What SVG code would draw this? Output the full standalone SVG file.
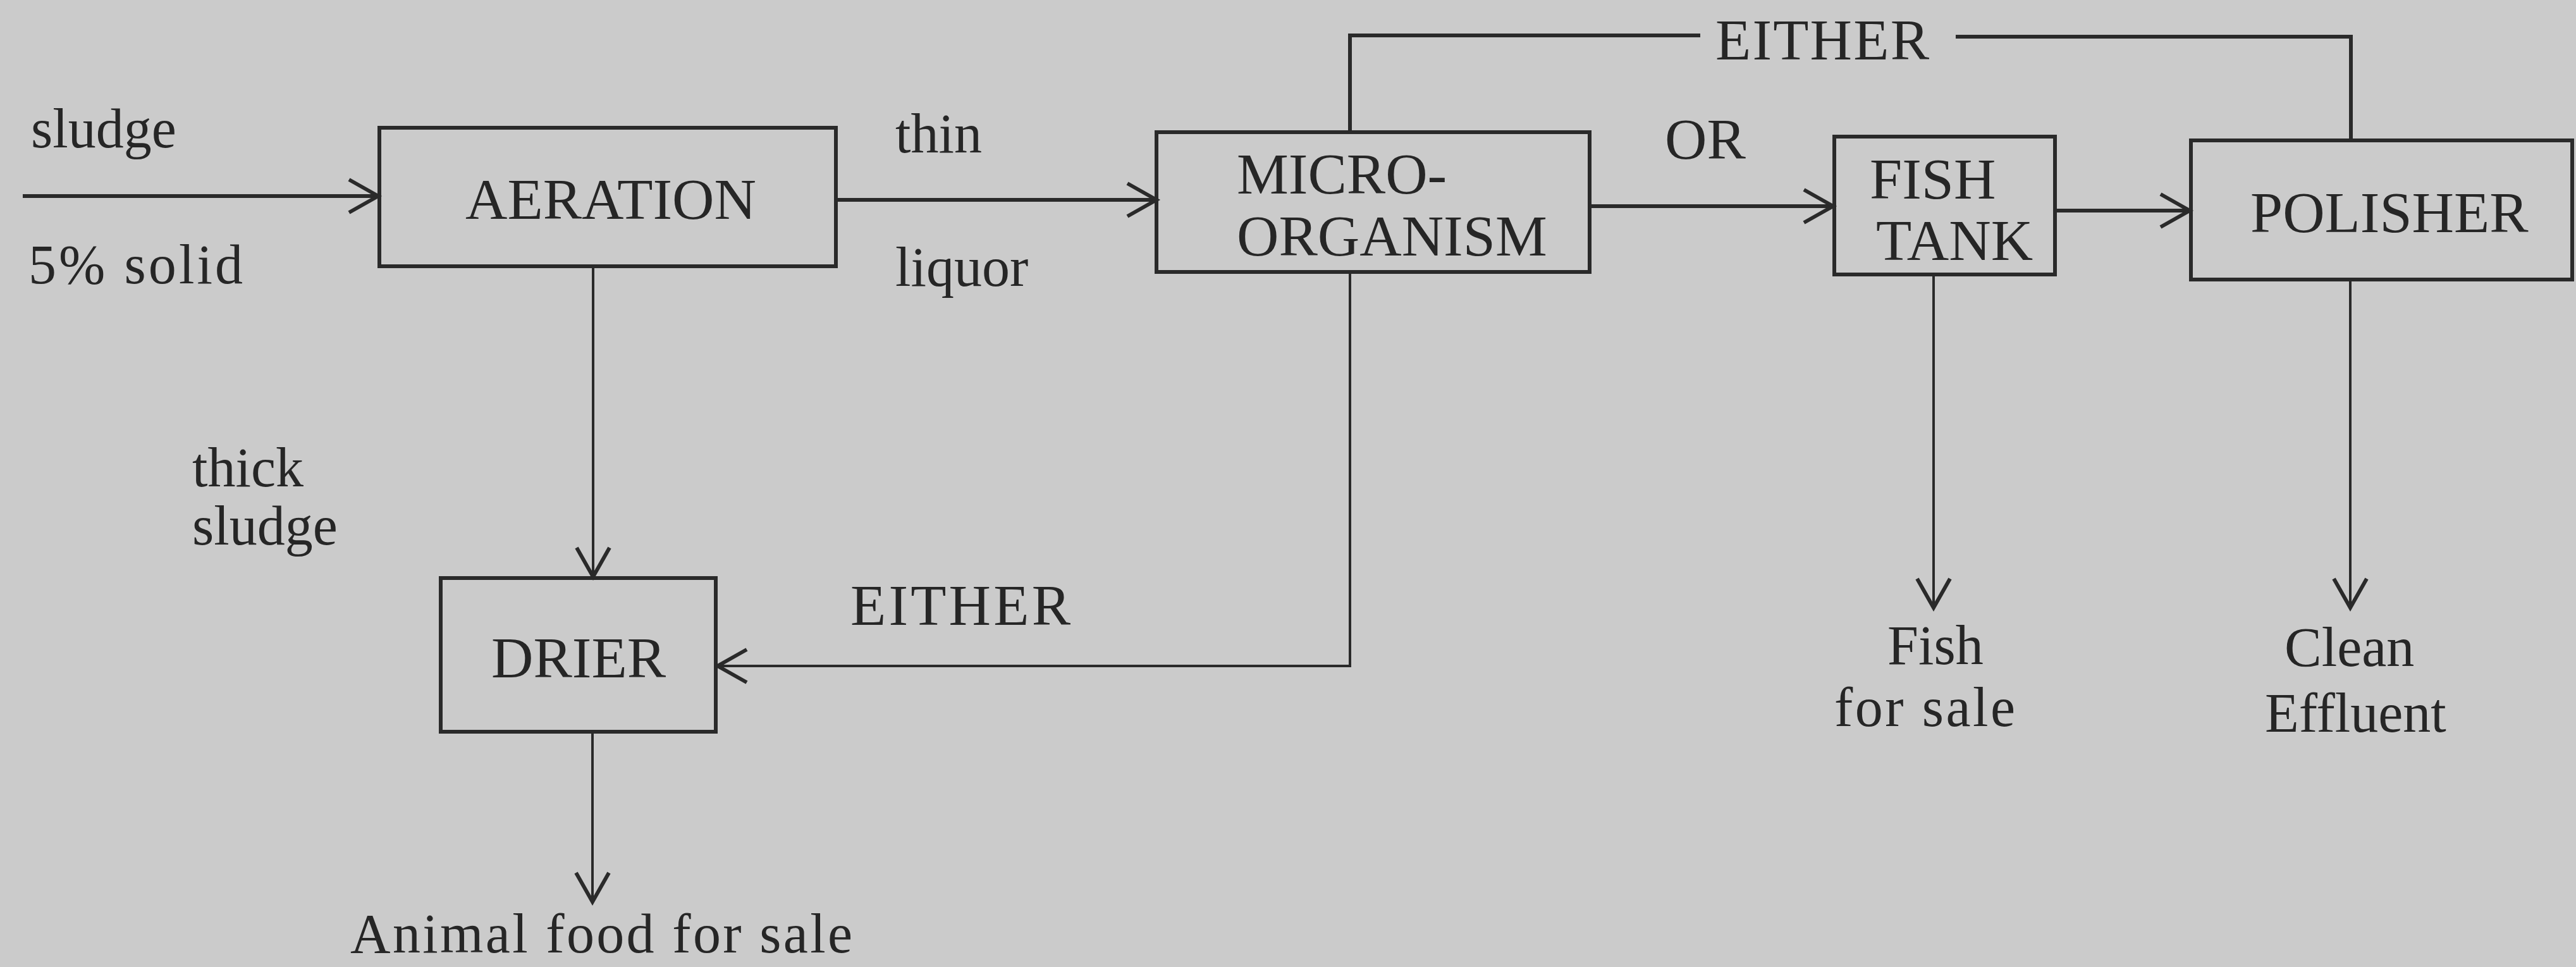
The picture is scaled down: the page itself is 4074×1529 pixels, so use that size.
<svg xmlns="http://www.w3.org/2000/svg" width="4074" height="1529" viewBox="0 0 4074 1529">
<style>
.bg{fill:#cbcbcb}
.box{fill:none;stroke:#2a2a2a;stroke-width:6}
.h{fill:none;stroke:#2a2a2a;stroke-width:6}
.v{fill:none;stroke:#2a2a2a;stroke-width:4}
.cap{font-family:"Liberation Serif",serif;font-size:92px;fill:#262626}
.lc{font-family:"Liberation Serif",serif;font-size:88px;fill:#262626}
</style>
<defs>
<marker id="ah" markerUnits="userSpaceOnUse" markerWidth="60" markerHeight="64" refX="50" refY="32" orient="auto" viewBox="0 0 60 64">
<path d="M4,6 L50,32 L4,58" fill="none" stroke="#2a2a2a" stroke-width="6"/>
</marker>
</defs>
<rect class="bg" x="0" y="0" width="4074" height="1529"/>

<g id="connectors">
<path class="h" d="M36,310 H598" marker-end="url(#ah)"/>
<path class="h" d="M1322,316 H1829" marker-end="url(#ah)"/>
<path class="h" d="M2514,326 H2899" marker-end="url(#ah)"/>
<path class="h" d="M3250,333 H3463" marker-end="url(#ah)"/>
<path class="h" d="M2135,209 V56 H2689"/>
<path class="h" d="M3093,58 H3718 V222"/>
<path class="v" d="M938,421 V912" marker-end="url(#ah)"/>
<path class="v" d="M2135,430 V1053 H1135" marker-end="url(#ah)"/>
<path class="v" d="M937,1157 V1426" marker-end="url(#ah)"/>
<path class="v" d="M3058,434 V961" marker-end="url(#ah)"/>
<path class="v" d="M3717,442 V961" marker-end="url(#ah)"/>
</g>

<g id="labels">
<text class="lc" x="49" y="233">sludge</text>
<text class="lc" x="45" y="448" textLength="339">5% solid</text>
<text class="lc" x="1416" y="241">thin</text>
<text class="lc" x="1416" y="452">liquor</text>
<text class="lc" x="304" y="769">thick</text>
<text class="lc" x="304" y="861">sludge</text>
<text class="cap" x="2713" y="94" textLength="338">EITHER</text>
<text class="cap" x="2633" y="251">OR</text>
<text class="cap" x="1345" y="988" textLength="348">EITHER</text>
<text class="lc" x="554" y="1506" textLength="794">Animal food for sale</text>
<text class="lc" x="2985" y="1050">Fish</text>
<text class="lc" x="2901" y="1148" textLength="286">for sale</text>
<text class="lc" x="3613" y="1053">Clean</text>
<text class="lc" x="3582" y="1157">Effluent</text>
</g>

<g id="aeration">
<rect class="box" x="600" y="202" width="722" height="219"/>
<text class="cap" x="966" y="346" text-anchor="middle">AERATION</text>
</g>
<g id="micro-organism">
<rect class="box" x="1829" y="209" width="685" height="221"/>
<text class="cap" x="1956" y="306">MICRO-</text>
<text class="cap" x="1956" y="404">ORGANISM</text>
</g>
<g id="fish-tank">
<rect class="box" x="2901" y="216" width="349" height="218"/>
<text class="cap" x="2957" y="314">FISH</text>
<text class="cap" x="2967" y="411">TANK</text>
</g>
<g id="polisher">
<rect class="box" x="3465" y="222" width="603" height="220"/>
<text class="cap" x="3559" y="367">POLISHER</text>
</g>
<g id="drier">
<rect class="box" x="697" y="914" width="435" height="243"/>
<text class="cap" x="777" y="1071">DRIER</text>
</g>
</svg>
